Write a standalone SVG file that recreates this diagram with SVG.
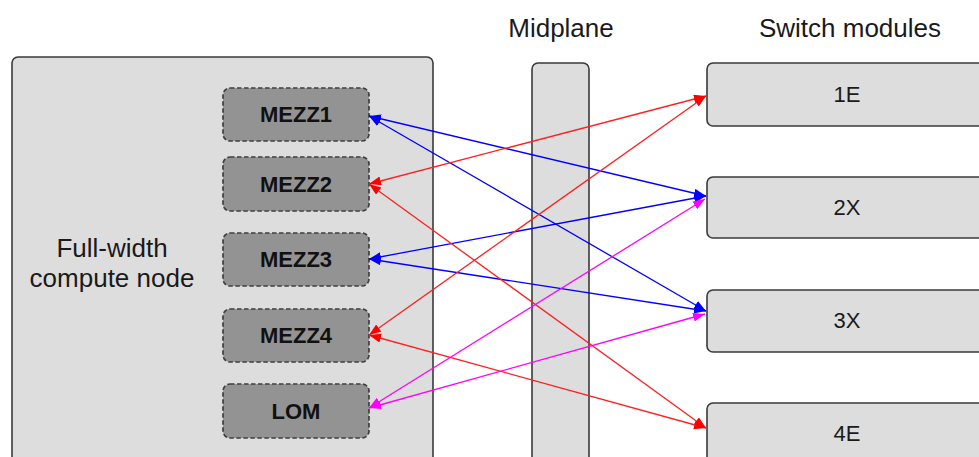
<svg xmlns="http://www.w3.org/2000/svg" width="979" height="457" viewBox="0 0 979 457">
<style>
.box{fill:#dddddd;stroke:#3a3a3a;stroke-width:1.6}
.mezz{fill:#939393;stroke:#3f3f3f;stroke-width:1.7;stroke-dasharray:4.5 2.5}
.t{font-family:"Liberation Sans",Arial,sans-serif;fill:#1a1a1a;text-anchor:middle}
.title{font-size:26px}
.lbl{font-size:22px}
.bold{font-size:22px;font-weight:bold;fill:#111}
.c{fill:none;stroke-width:1.3}
.b{stroke:#0000ff;marker-start:url(#ab);marker-end:url(#ab)}
.r{stroke:#ff2020;marker-start:url(#ar);marker-end:url(#ar)}
.m{stroke:#ff00ff;marker-start:url(#am);marker-end:url(#am)}
</style>
<defs>
<marker id="ab" markerUnits="userSpaceOnUse" markerWidth="13" markerHeight="10" refX="12" refY="4.5" orient="auto-start-reverse"><path d="M0,0 L12,4.5 L0,9 z" fill="#0000ff"/></marker>
<marker id="ar" markerUnits="userSpaceOnUse" markerWidth="13" markerHeight="10" refX="12" refY="4.5" orient="auto-start-reverse"><path d="M0,0 L12,4.5 L0,9 z" fill="#ff0000"/></marker>
<marker id="am" markerUnits="userSpaceOnUse" markerWidth="13" markerHeight="10" refX="12" refY="4.5" orient="auto-start-reverse"><path d="M0,0 L12,4.5 L0,9 z" fill="#ff00ff"/></marker>
</defs>

<text class="t title" x="561" y="37">Midplane</text>
<text class="t title" x="850" y="37">Switch modules</text>

<g id="compute-node">
<rect class="box" x="12" y="57" width="421" height="430" rx="6"/>
<text class="t title" x="112" y="257">Full-width</text>
<text class="t title" x="112" y="287">compute node</text>
</g>
<g id="mezz1"><rect class="mezz" x="223" y="88" width="146" height="53" rx="7"/><text class="t bold" x="296" y="122">MEZZ1</text></g>
<g id="mezz2"><rect class="mezz" x="223" y="157" width="146" height="54" rx="7"/><text class="t bold" x="296" y="192">MEZZ2</text></g>
<g id="mezz3"><rect class="mezz" x="223" y="233" width="146" height="53" rx="7"/><text class="t bold" x="296" y="267">MEZZ3</text></g>
<g id="mezz4"><rect class="mezz" x="223" y="309" width="146" height="53" rx="7"/><text class="t bold" x="296" y="343">MEZZ4</text></g>
<g id="lom"><rect class="mezz" x="223" y="384" width="146" height="54" rx="7"/><text class="t bold" x="296" y="419">LOM</text></g>

<g id="midplane"><rect class="box" x="532" y="63" width="57" height="430" rx="6"/></g>

<g id="sw1E"><rect class="box" x="707" y="63" width="290" height="63" rx="6"/><text class="t lbl" x="847" y="102">1E</text></g>
<g id="sw2X"><rect class="box" x="707" y="177" width="290" height="61" rx="6"/><text class="t lbl" x="847" y="215">2X</text></g>
<g id="sw3X"><rect class="box" x="707" y="290" width="290" height="62" rx="6"/><text class="t lbl" x="847" y="328">3X</text></g>
<g id="sw4E"><rect class="box" x="707" y="403" width="290" height="70" rx="6"/><text class="t lbl" x="847" y="441">4E</text></g>

<g id="connectors">
<line class="c b" x1="369" y1="116" x2="706" y2="196"/>
<line class="c b" x1="369" y1="116" x2="706" y2="311"/>
<line class="c b" x1="369" y1="259" x2="706" y2="196"/>
<line class="c b" x1="369" y1="259" x2="706" y2="311"/>
<line class="c r" x1="369" y1="184" x2="706" y2="96"/>
<line class="c r" x1="369" y1="184" x2="706" y2="428"/>
<line class="c r" x1="369" y1="335" x2="706" y2="96"/>
<line class="c r" x1="369" y1="335" x2="706" y2="428"/>
<line class="c m" x1="369" y1="408" x2="705" y2="199"/>
<line class="c m" x1="369" y1="408" x2="705" y2="314"/>
</g>
</svg>
